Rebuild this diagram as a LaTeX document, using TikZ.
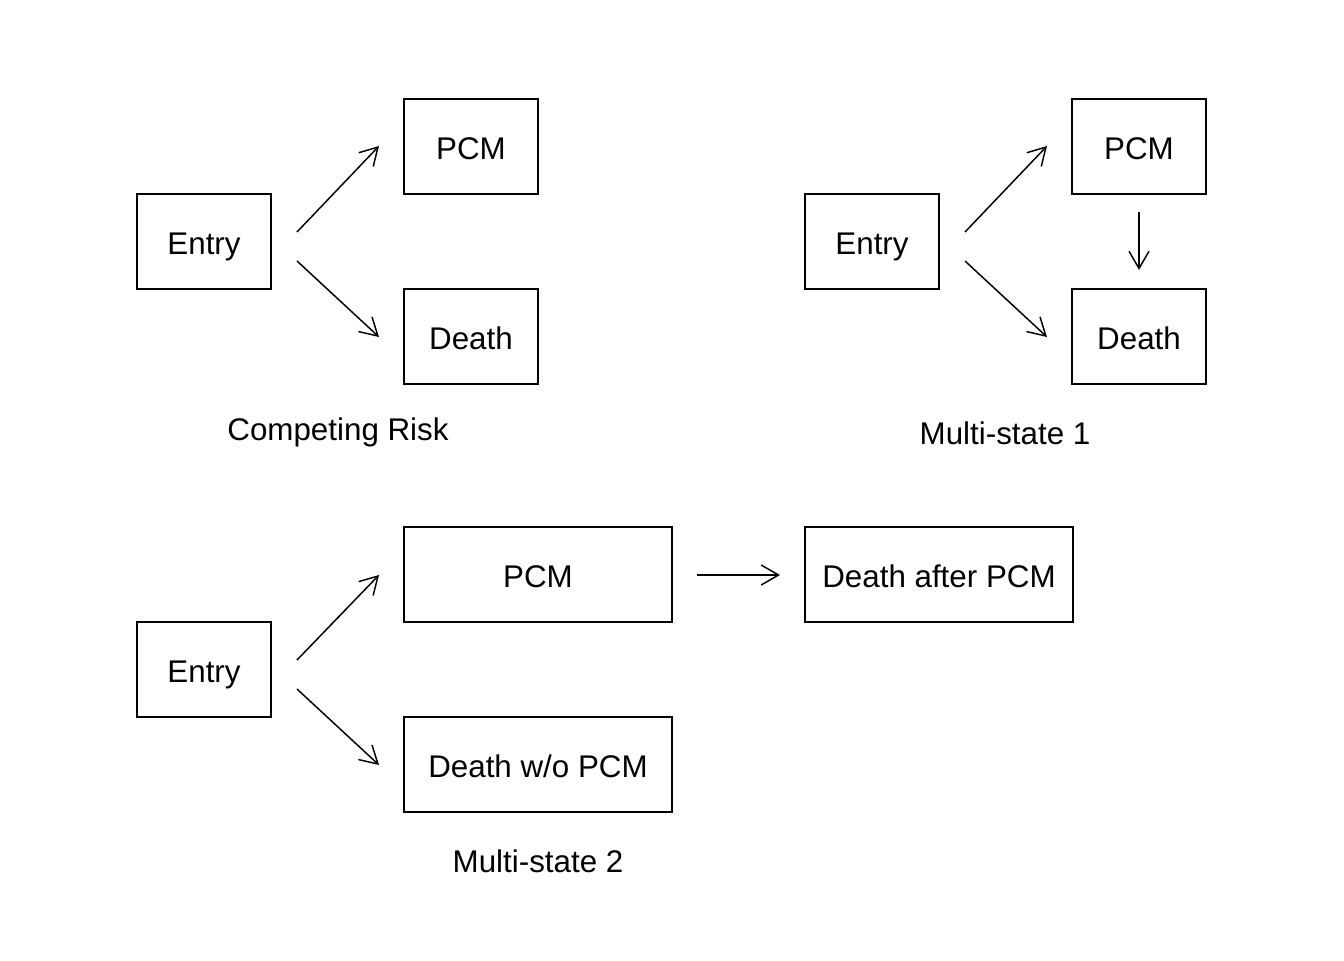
\documentclass[tikz,border=0pt]{standalone}
\usepackage{fontspec}
\setmainfont{Liberation Sans}
\usetikzlibrary{arrows.meta}
\begin{document}
\begin{tikzpicture}[x=0.75pt,y=-0.75pt,
  state/.style={draw,line width=1.1pt,minimum width=100.5pt,minimum height=71.25pt,inner sep=0pt,text height=20pt,text depth=0pt,font=\fontsize{23.5}{28}\selectfont},
  widestate/.style={state,minimum width=201pt},
  lab/.style={font=\fontsize{23.5}{28}\selectfont,inner sep=0pt,anchor=base},
  conn/.style={line width=1.1pt,-{Straight Barb[length=13pt,width=15pt,line width=1.1pt]}}]
\useasboundingbox (0,0) rectangle (1344,960);
% Competing risk
\node[state] (e1) at (204,241.5) {Entry};
\node[state] (p1) at (471,146.5) {PCM};
\node[state] (d1) at (471,336.5) {Death};
\coordinate (a1s) at (297,232); \coordinate (a1e) at (379,146);
\coordinate (b1s) at (297,261); \coordinate (b1e) at (379,337);
\draw[conn] (a1s) -- (a1e);
\draw[conn] (b1s) -- (b1e);
\node[lab] (l1) at (338,440) {Competing Risk};
% Multi-state 1
\node[state] (e2) at (872,241.5) {Entry};
\node[state] (p2) at (1139,146.5) {PCM};
\node[state] (d2) at (1139,336.5) {Death};
\coordinate (a2s) at (965,232); \coordinate (a2e) at (1047,146);
\coordinate (b2s) at (965,261); \coordinate (b2e) at (1047,337);
\coordinate (c2s) at (1139,212); \coordinate (c2e) at (1139,270);
\draw[conn] (a2s) -- (a2e);
\draw[conn] (b2s) -- (b2e);
\draw[conn] (c2s) -- (c2e);
\node[lab] (l2) at (1005,444) {Multi-state 1};
% Multi-state 2
\node[state] (e3) at (204,669.5) {Entry};
\node[widestate] (p3) at (538,574.5) {PCM};
\node[widestate] (d3) at (538,764.5) {Death w/o PCM};
\node[widestate] (da3) at (939,574.5) {Death after PCM};
\coordinate (a3s) at (297,660); \coordinate (a3e) at (379,575);
\coordinate (b3s) at (297,689); \coordinate (b3e) at (379,765);
\coordinate (c3s) at (697,575); \coordinate (c3e) at (780,575);
\draw[conn] (a3s) -- (a3e);
\draw[conn] (b3s) -- (b3e);
\draw[conn] (c3s) -- (c3e);
\node[lab] (l3) at (538,872) {Multi-state 2};
\end{tikzpicture}
\end{document}
